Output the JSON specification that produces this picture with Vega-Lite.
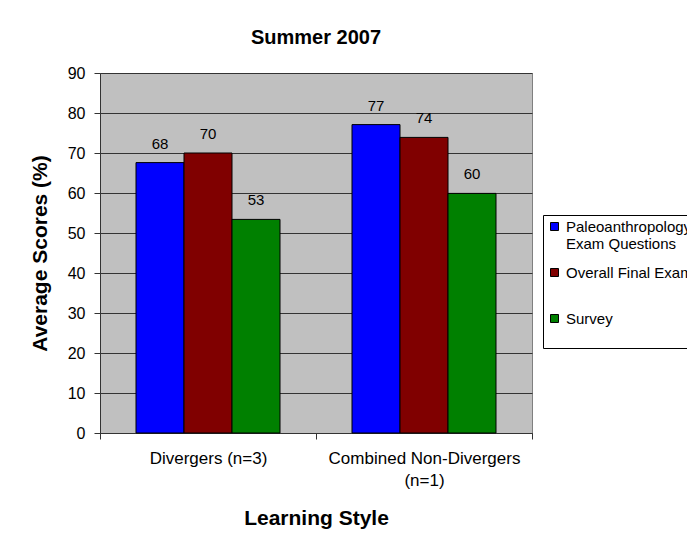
{
  "$schema": "https://vega.github.io/schema/vega-lite/v6.json",
  "width": 432,
  "height": 360,
  "autosize": {"type": "none"},
  "padding": {"left": 100, "top": 73, "right": 155, "bottom": 116},
  "background": "white",
  "title": {
    "text": "Summer 2007",
    "fontSize": 20,
    "fontWeight": "bold",
    "anchor": "middle",
    "frame": "group",
    "baseline": "alphabetic",
    "offset": 1,
    "color": "black"
  },
  "data": {
    "values": [
      {"style": "Divergers (n=3)", "measure": "Paleoanthropology Exam Questions", "value": 67.6},
      {"style": "Divergers (n=3)", "measure": "Overall Final Exam", "value": 70},
      {"style": "Divergers (n=3)", "measure": "Survey", "value": 53.4},
      {"style": "Combined Non-Divergers (n=1)", "measure": "Paleoanthropology Exam Questions", "value": 77.1},
      {"style": "Combined Non-Divergers (n=1)", "measure": "Overall Final Exam", "value": 73.9},
      {"style": "Combined Non-Divergers (n=1)", "measure": "Survey", "value": 59.9}
    ]
  },
  "encoding": {
    "x": {
      "field": "style",
      "type": "nominal",
      "sort": ["Divergers (n=3)", "Combined Non-Divergers (n=1)"],
      "scale": {"paddingInner": 0, "paddingOuter": 0},
      "axis": {
        "title": "Learning Style",
        "labelAngle": 0,
        "tickBand": "extent",
        "labelExpr": "datum.label == 'Combined Non-Divergers (n=1)' ? ['Combined Non-Divergers', '(n=1)'] : datum.label",
        "labelFontSize": 17,
        "labelLineHeight": 22,
        "labelBaseline": "top",
        "labelPadding": 11,
        "labelLimit": 400,
        "tickSize": 6,
        "titleX": 216,
        "titleY": 85,
        "titleBaseline": "middle",
        "titleFontSize": 21
      }
    },
    "xOffset": {
      "field": "measure",
      "type": "nominal",
      "sort": ["Paleoanthropology Exam Questions", "Overall Final Exam", "Survey"],
      "scale": {"paddingInner": 0, "paddingOuter": 0.75}
    },
    "y": {
      "field": "value",
      "type": "quantitative",
      "scale": {"domain": [0, 90]},
      "axis": {
        "title": "Average Scores (%)",
        "values": [0, 10, 20, 30, 40, 50, 60, 70, 80, 90],
        "grid": true,
        "labelFontSize": 16,
        "labelPadding": 9,
        "tickSize": 6,
        "titleX": -60,
        "titleY": 180,
        "titleBaseline": "middle",
        "titleAngle": -90,
        "titleFontSize": 21
      }
    }
  },
  "layer": [
    {
      "mark": {"type": "bar", "stroke": "black", "strokeWidth": 1},
      "encoding": {
        "color": {
          "field": "measure",
          "type": "nominal",
          "scale": {
            "domain": ["Paleoanthropology Exam Questions", "Overall Final Exam", "Survey"],
            "range": ["#0000FF", "#800000", "#008000"]
          },
          "legend": {
            "title": null,
            "orient": "none",
            "legendX": 443,
            "legendY": 142,
            "labelExpr": "datum.label == 'Paleoanthropology Exam Questions' ? ['Paleoanthropology', 'Exam Questions'] : [datum.label, '']",
            "labelFontSize": 15,
            "labelLineHeight": 20,
            "labelBaseline": "middle",
            "labelOffset": 4,
            "labelLimit": 300,
            "symbolType": "square",
            "symbolSize": 64,
            "symbolStrokeColor": "black",
            "symbolStrokeWidth": 1,
            "symbolOpacity": 1,
            "rowPadding": 13,
            "padding": 4,
            "strokeColor": "black",
            "fillColor": "white"
          }
        }
      }
    },
    {
      "mark": {"type": "text", "baseline": "alphabetic", "dy": -14, "fontSize": 15, "color": "black"},
      "encoding": {
        "text": {"field": "value", "type": "quantitative", "format": ".0f"}
      }
    }
  ],
  "config": {
    "font": "Liberation Sans",
    "view": {"fill": "#C0C0C0", "stroke": "#808080", "strokeWidth": 1},
    "axis": {
      "labelColor": "black",
      "titleColor": "black",
      "titleFontSize": 20,
      "titleFontWeight": "bold",
      "domainColor": "#333333",
      "tickColor": "#333333",
      "gridColor": "#333333",
      "gridOpacity": 1,
      "gridWidth": 1
    },
    "legend": {"labelColor": "black"}
  }
}
